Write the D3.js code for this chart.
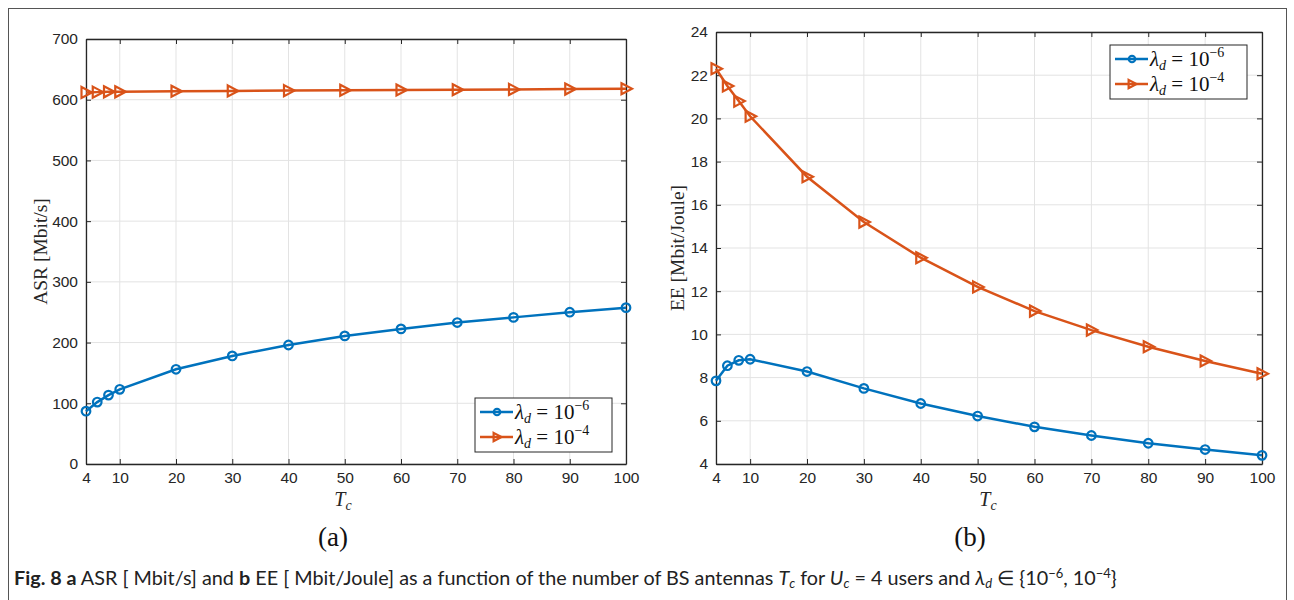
<!DOCTYPE html>
<html><head><meta charset="utf-8">
<script src="https://cdn.jsdelivr.net/npm/d3@7"></script>
<style>
body{margin:0;background:#fff;}
svg text{font-family:"Liberation Sans",Arial,sans-serif;}
</style></head><body>
<svg id="c" width="1294" height="600"></svg>
<script>
const xVals = [4, 6, 8, 10, 20, 30, 40, 50, 60, 70, 80, 90, 100];
const xTicks = [4, 10, 20, 30, 40, 50, 60, 70, 80, 90, 100];
const asrLow = [87, 102, 113.5, 123, 156, 178, 196, 211, 222.5, 233, 241.5, 250, 257.5];
const asrHigh = [612, 612.5, 613, 613, 614, 614.5, 615, 615.5, 616, 616.5, 617, 617.5, 618];
const eeLow = [7.85, 8.55, 8.8, 8.85, 8.28, 7.5, 6.8, 6.22, 5.72, 5.32, 4.96, 4.67, 4.4];
const eeHigh = [22.3, 21.5, 20.8, 20.1, 17.3, 15.2, 13.55, 12.2, 11.08, 10.2, 9.43, 8.77, 8.18];
const asrTicks = [0, 100, 200, 300, 400, 500, 600, 700];
const eeTicks = [4, 6, 8, 10, 12, 14, 16, 18, 20, 22, 24];
const seriesNames = ["\u22126", "\u22124"];
const colors = ["#0072BD", "#D95319"];

const svg = d3.select("#c");
svg.append("rect").attr("x", 8.5).attr("y", 8.5).attr("width", 1278).attr("height", 600)
  .attr("fill", "none").attr("stroke", "#555").attr("stroke-width", 1);

const serif = "'Liberation Serif','Times New Roman',serif";

function panel(cfg) {
  const x = d3.scaleLinear().domain([4, 100]).range([cfg.x0, cfg.x1]);
  const y = d3.scaleLinear().domain(cfg.yDomain).range([cfg.y1, cfg.y0]);
  const g = svg.append("g");
  g.append("g").selectAll("line").data(xTicks).join("line")
    .attr("x1", d => x(d)).attr("x2", d => x(d)).attr("y1", cfg.y0).attr("y2", cfg.y1)
    .attr("stroke", "#e3e3e3").attr("stroke-width", 1);
  g.append("g").selectAll("line").data(cfg.yTicks).join("line")
    .attr("y1", d => y(d)).attr("y2", d => y(d)).attr("x1", cfg.x0).attr("x2", cfg.x1)
    .attr("stroke", "#e3e3e3").attr("stroke-width", 1);
  const axStyle = sel => {
    sel.select(".domain").attr("stroke", "#262626").attr("stroke-width", 1.3);
    sel.selectAll(".tick line").attr("stroke", "#262626");
    sel.selectAll("text").attr("fill", "#262626").style("font-size", "15.5px")
      .style("font-family", "'Liberation Sans',Arial,sans-serif");
  };
  g.append("g").attr("transform", `translate(0,${cfg.y1})`)
    .call(d3.axisBottom(x).tickValues(xTicks).tickSize(-5).tickSizeOuter(0).tickPadding(8))
    .call(axStyle);
  g.append("g").attr("transform", `translate(0,${cfg.y0})`)
    .call(d3.axisTop(x).tickValues(xTicks).tickSize(-5).tickSizeOuter(0).tickFormat(""))
    .call(axStyle);
  g.append("g").attr("transform", `translate(${cfg.x0},0)`)
    .call(d3.axisLeft(y).tickValues(cfg.yTicks).tickSize(-5).tickSizeOuter(0).tickPadding(8))
    .call(axStyle);
  g.append("g").attr("transform", `translate(${cfg.x1},0)`)
    .call(d3.axisRight(y).tickValues(cfg.yTicks).tickSize(-5).tickSizeOuter(0).tickFormat(""))
    .call(axStyle);

  const line = d3.line().x((d, i) => x(xVals[i])).y(d => y(d));
  cfg.series.forEach((s, k) => {
    g.append("path").datum(s).attr("d", line).attr("fill", "none")
      .attr("stroke", colors[k]).attr("stroke-width", 2.5);
    const m = g.append("g").selectAll("g").data(s).join("g")
      .attr("transform", (d, i) => `translate(${x(xVals[i])},${y(d)})`);
    drawMarker(m, k);
  });

  svg.append("text").attr("transform", `translate(${cfg.yLabelX},${(cfg.y0 + cfg.y1) / 2}) rotate(-90)`)
    .attr("text-anchor", "middle").style("font-family", serif)
    .style("font-size", "19.5px").attr("fill", "#262626").text(cfg.yLabel);
  const xl = svg.append("text").attr("x", cfg.xlx).attr("y", 506)
    .attr("text-anchor", "middle").style("font-family", serif).attr("fill", "#262626");
  xl.append("tspan").style("font-style", "italic").style("font-size", "20px").text("T");
  xl.append("tspan").style("font-style", "italic").style("font-size", "14px").attr("dy", 4).text("c");
  svg.append("text").attr("x", cfg.subx).attr("y", 546).attr("text-anchor", "middle")
    .style("font-family", serif).style("font-size", "27px")
    .attr("fill", "#111").text(cfg.sub);

  const lg = svg.append("g").attr("transform", `translate(${cfg.lx},${cfg.ly})`);
  lg.append("rect").attr("width", 137).attr("height", 54).attr("fill", "#fff")
    .attr("stroke", "#262626").attr("stroke-width", 1);
  seriesNames.forEach((nm, k) => {
    const yy = 14 + k * 25;
    lg.append("line").attr("x1", 5).attr("x2", 38).attr("y1", yy).attr("y2", yy)
      .attr("stroke", colors[k]).attr("stroke-width", 2.5);
    const mg = lg.append("g").attr("transform", `translate(22,${yy})`).datum(0);
    drawMarker(mg, k, 0.75);
    const t = lg.append("text").attr("x", 40).attr("y", yy + 7)
      .style("font-family", serif).style("font-size", "21px").attr("fill", "#111");
    t.append("tspan").style("font-style", "italic").text("\u03BB");
    t.append("tspan").style("font-style", "italic").style("font-size", "14px").attr("dy", 4).text("d");
    t.append("tspan").attr("dy", -4).text(" = 10");
    t.append("tspan").style("font-size", "14px").attr("dy", -9).text(nm);
  });
}

function drawMarker(sel, k, s = 1) {
  if (k === 0) {
    sel.append("circle").attr("r", 4.3 * s).attr("fill", "none")
      .attr("stroke", colors[0]).attr("stroke-width", 2.2);
  } else {
    sel.append("path").attr("d", `M${-4.5 * s},${-5.5 * s}L${6 * s},0L${-4.5 * s},${5.5 * s}Z`)
      .attr("fill", "none").attr("stroke", colors[1]).attr("stroke-width", 2.2)
      .attr("stroke-linejoin", "miter");
  }
}

panel({x0: 86, x1: 626, y0: 39, y1: 464, yDomain: [0, 700], yTicks: asrTicks,
  series: [asrLow, asrHigh], yLabel: "ASR [Mbit/s]", yLabelX: 47, sub: "(a)", subx: 333, xlx: 343, lx: 475, ly: 398});
panel({x0: 716, x1: 1262, y0: 32, y1: 464, yDomain: [4, 24], yTicks: eeTicks,
  series: [eeLow, eeHigh], yLabel: "EE [Mbit/Joule]", yLabelX: 684, sub: "(b)", subx: 970, xlx: 988, lx: 1110, ly: 45});

const cs = 19.8, ss = 13;
const cap = svg.append("text").attr("x", 14).attr("y", 585)
  .style("font-family", "Lato,'Noto Sans',sans-serif").style("font-size", cs + "px").attr("fill", "#222");
cap.append("tspan").style("font-weight", "bold").text("Fig. 8 a");
cap.append("tspan").text(" ASR [ Mbit/s] and ");
cap.append("tspan").style("font-weight", "bold").text("b");
cap.append("tspan").text(" EE [ Mbit/Joule] as a function of the number of BS antennas ");
cap.append("tspan").style("font-style", "italic").text("T");
cap.append("tspan").style("font-style", "italic").style("font-size", ss + "px").attr("dy", 3).text("c");
cap.append("tspan").attr("dy", -3).text(" for ");
cap.append("tspan").style("font-style", "italic").text("U");
cap.append("tspan").style("font-style", "italic").style("font-size", ss + "px").attr("dy", 3).text("c");
cap.append("tspan").attr("dy", -3).text(" = 4 users and ");
cap.append("tspan").style("font-style", "italic").text("\u03BB");
cap.append("tspan").style("font-style", "italic").style("font-size", ss + "px").attr("dy", 3).text("d");
cap.append("tspan").attr("dy", -3).text(" \u2208 {10");
cap.append("tspan").style("font-size", ss + "px").attr("dy", -7).text("\u22126");
cap.append("tspan").attr("dy", 7).text(", 10");
cap.append("tspan").style("font-size", ss + "px").attr("dy", -7).text("\u22124");
cap.append("tspan").attr("dy", 7).text("}");
</script>
</body></html>
